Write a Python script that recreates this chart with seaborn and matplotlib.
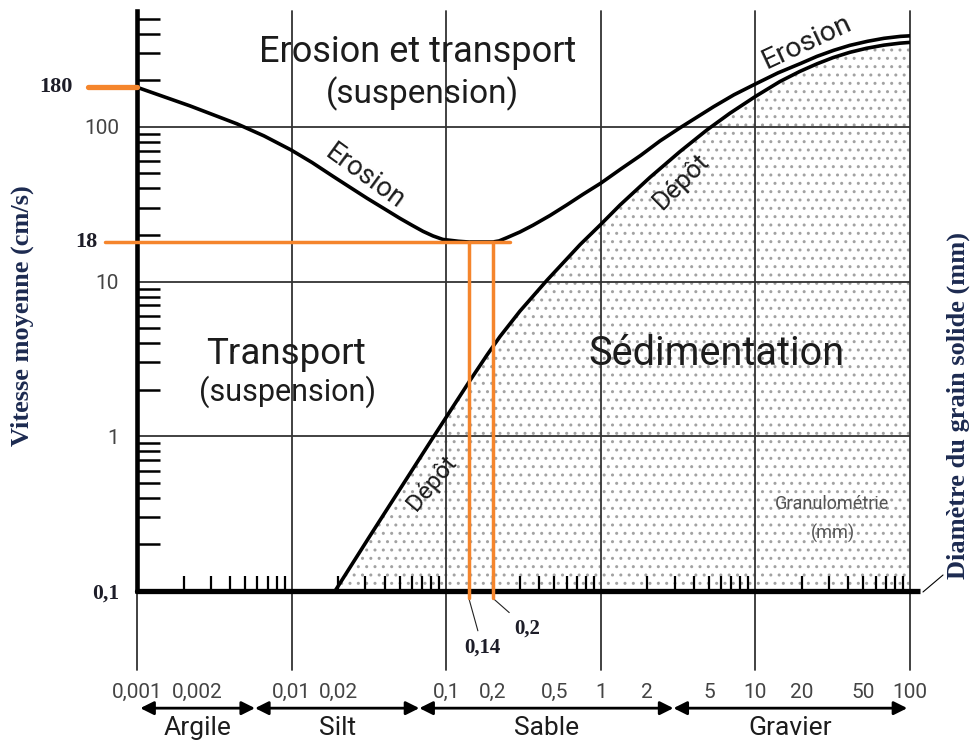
import numpy as np
import pandas as pd
import matplotlib
matplotlib.use("Agg")
import matplotlib.pyplot as plt
from matplotlib.lines import Line2D
from matplotlib.ticker import LogLocator, NullFormatter
from matplotlib.transforms import ScaledTranslation
import seaborn as sns

# Hjulström diagram: grain diameter (mm) against mean flow velocity (cm/s)
erosion_d = [0.001, 0.0022, 0.00444, 0.00663, 0.0099, 0.01355, 0.0185, 0.0239, 0.0308,
             0.0396, 0.0502, 0.0601, 0.0708, 0.0822, 0.0953, 0.12, 0.14, 0.2, 0.22,
             0.247, 0.30, 0.364, 0.469, 0.604, 0.767, 1.0, 1.35, 1.81, 2.42, 3.25,
             5.38, 7.27, 10, 14.0, 19.7, 25.0, 32.1, 40.9, 53.3, 67.9, 87, 100]
erosion_v = [180, 136.5, 104.4, 87.3, 70.9, 58.8, 47.9, 40.6, 34.5,
             29.6, 25.6, 23.1, 21.1, 19.7, 18.7, 18.2, 18, 18, 18.3,
             19.2, 20.9, 23.1, 26.7, 31.3, 36.6, 43.2, 53.4, 65.3, 81.1, 98.4,
             135, 161, 189, 223, 257, 285, 312, 336, 357, 373, 384, 387]

deposit_d = [0.0191, 0.0321, 0.0502, 0.0785, 0.109, 0.1425, 0.1836, 0.2228, 0.300,
             0.449, 0.734, 1.0, 1.331, 2.08, 3.25, 4.86, 6.85, 10, 14.4, 19.4, 25.0,
             31.8, 40.9, 52.7, 67.9, 86.1, 100]
deposit_v = [0.1, 0.2267, 0.455, 0.913, 1.517, 2.292, 3.349, 4.41, 6.44,
             10.2, 17.3, 23.4, 31.2, 47.1, 69.1, 95.4, 122.4, 157, 196, 228, 255,
             280, 303, 322, 337, 347, 351]

# read-off values highlighted in orange
v_marks = [180, 18]
d_marks = [0.14, 0.2]
d_mark_labels = ["0,14", "0,2"]

x_ticks = [0.001, 0.002, 0.01, 0.02, 0.1, 0.2, 0.5, 1, 2, 5, 10, 20, 50, 100]
x_tick_labels = ["0,001", "0,002", "0,01", "0,02", "0,1", "0,2", "0,5", "1", "2", "5",
                 "10", "20", "50", "100"]
y_ticks = [0.1, 1, 10, 100]
y_tick_labels = ["0,1", "1", "10", "100"]
decades = [0.001, 0.01, 0.1, 1, 10, 100]

classes = ["Argile", "Silt", "Sable", "Gravier"]
class_bounds = [0.00105, 0.0058, 0.067, 2.95, 96]

sns.set_theme(style="white")
plt.rcParams["font.family"] = ["Roboto", "DejaVu Sans"]
plt.rcParams["hatch.linewidth"] = 1.0

ORANGE = "#f5852c"
DARK = "#1d1d28"
NAVY = "#1c2a50"
INK = "#1c1c1c"
SERIF = ["Liberation Serif", "DejaVu Serif"]

fig = plt.figure(figsize=(9.73, 7.45), dpi=100)
ax = fig.add_axes([137 / 973, 1 - 591 / 745, 773 / 973, 580 / 745])
ax.set_xscale("log")
ax.set_yscale("log")
ax.set_xlim(0.001, 100)
ax.set_ylim(0.1, 560)
ax.set_facecolor("none")

# dotted sedimentation area under the deposit curve
ax.fill_between(deposit_d, deposit_v, 0.1, facecolor="none", edgecolor="#a2a2a2",
                hatch="..", linewidth=0, zorder=0.5)

# grid: horizontal decades and vertical decades reaching down to the size scale
for v in [1, 10, 100]:
    ax.axhline(v, color="#333333", lw=1.3, zorder=1)
for d in decades:
    ax.plot([d, d], [-0.136, 1], transform=ax.get_xaxis_transform(), clip_on=False,
            color="#333333", lw=1.3, zorder=1)

curves = pd.DataFrame({
    "d": erosion_d + deposit_d,
    "v": erosion_v + deposit_v,
    "courbe": ["Erosion"] * len(erosion_d) + ["Dépôt"] * len(deposit_d),
})
sns.lineplot(data=curves, x="d", y="v", hue="courbe",
             palette={"Erosion": "black", "Dépôt": "black"},
             sort=False, legend=False, lw=2.6, ax=ax, zorder=3)
for line in ax.get_lines()[-2:]:
    line.set_solid_joinstyle("round")
ax.set_xlabel("")
ax.set_ylabel("")

# spines
for s in ["top", "right"]:
    ax.spines[s].set_visible(False)
ax.spines["left"].set_linewidth(3.3)
ax.spines["left"].set_color("black")
ax.spines["bottom"].set_linewidth(3.8)
ax.spines["bottom"].set_color("black")
ax.spines["bottom"].set_capstyle("round")
ax.plot([100, 116], [0.1, 0.1], clip_on=False, color="black", lw=3.8,
        solid_capstyle="butt", zorder=4)

# y ticks
ax.set_yticks(y_ticks, labels=y_tick_labels)
ax.yaxis.set_minor_locator(LogLocator(base=10, subs=np.arange(2, 10), numticks=20))
ax.yaxis.set_minor_formatter(NullFormatter())
ax.tick_params(axis="y", which="minor", direction="in", length=16.5, width=1.8,
               color="black", left=True)
ax.tick_params(axis="y", which="major", length=0, pad=13, labelsize=15,
               labelcolor="#444444", left=True)
lab01 = ax.get_yticklabels()[0]
lab01.set_fontfamily(SERIF)
lab01.set_fontweight("bold")
lab01.set_color(DARK)
lab01.set_fontsize(15.5)

# x ticks
ax.set_xticks(x_ticks, labels=x_tick_labels)
ax.xaxis.set_minor_locator(LogLocator(base=10, subs=np.arange(2, 10), numticks=20))
ax.xaxis.set_minor_formatter(NullFormatter())
ax.xaxis.remove_overlapping_locs = False
ax.tick_params(axis="x", which="minor", direction="in", length=11, width=1.6,
               color="black", bottom=True)
ax.tick_params(axis="x", which="major", length=0, pad=66, labelsize=15,
               labelcolor="#444444", bottom=True)
# keep "0,002" clear of "0,001"
lab002 = ax.get_xticklabels()[1]
lab002.set_transform(lab002.get_transform() + ScaledTranslation(14 / 100, 0, fig.dpi_scale_trans))

# orange read-off lines
ax.plot([-0.0634, 0], [v_marks[0]] * 2, transform=ax.get_yaxis_transform(),
        clip_on=False, color=ORANGE, lw=3.8, solid_capstyle="round", zorder=5)
ax.plot([-0.0414, 0.4825], [v_marks[1]] * 2, transform=ax.get_yaxis_transform(),
        clip_on=False, color=ORANGE, lw=2.5, zorder=5)
for d in d_marks:
    ax.plot([d, d], [v_marks[1], 0.09], clip_on=False, color=ORANGE, lw=2.5, zorder=5)

ax.text(-0.083, v_marks[0], "180", transform=ax.get_yaxis_transform(), ha="right",
        va="center", fontsize=16, fontweight="bold", family=SERIF, color=DARK)
ax.text(-0.051, v_marks[1], "18", transform=ax.get_yaxis_transform(), ha="right",
        va="center", fontsize=16, fontweight="bold", family=SERIF, color=DARK)

offsets = [(10, -36), (25, -22)]
for d, lab, off in zip(d_marks, d_mark_labels, offsets):
    ax.annotate(lab, xy=(d, 0.09), xytext=off, textcoords="offset points",
                ha="center", va="center", fontsize=15, fontweight="bold",
                family=SERIF, color=DARK, annotation_clip=False,
                arrowprops=dict(arrowstyle="-", lw=0.8, color="#222222",
                                shrinkA=3, shrinkB=0))

# grain size classes
for i, name in enumerate(classes):
    a, b = class_bounds[i], class_bounds[i + 1]
    ax.annotate("", xy=(a, -0.202), xytext=(b, -0.202),
                xycoords=ax.get_xaxis_transform(), textcoords=ax.get_xaxis_transform(),
                annotation_clip=False,
                arrowprops=dict(arrowstyle="<|-|>", color="black", lw=2,
                                mutation_scale=20, shrinkA=0, shrinkB=0))
    ax.text(np.sqrt(a * b), -0.237, name, transform=ax.get_xaxis_transform(),
            ha="center", va="center", fontsize=19, color=INK)

# region labels
txt = dict(ha="center", va="center", color=INK, transform=ax.transAxes)
ax.text(0.3635, 0.930, "Erosion et transport", fontsize=26, **txt)
ax.text(0.3687, 0.857, "(suspension)", fontsize=24, **txt)
ax.text(0.1928, 0.409, "Transport", fontsize=26.5, **txt)
ax.text(0.1953, 0.343, "(suspension)", fontsize=22, **txt)
ax.text(0.749, 0.409, "Sédimentation", fontsize=28.5, **txt)
ax.text(0.899, 0.150, "Granulométrie", fontsize=13, ha="center", va="center",
        color="#555555", transform=ax.transAxes)
ax.text(0.9004, 0.100, "(mm)", fontsize=13, ha="center", va="center",
        color="#555555", transform=ax.transAxes)

rot = dict(ha="center", va="center", rotation_mode="anchor", color=INK,
           transform=ax.transAxes)
ax.text(0.295, 0.714, "Erosion", fontsize=19.5, rotation=-36, **rot)
ax.text(0.867, 0.947, "Erosion", fontsize=20.5, rotation=25, **rot)
ax.text(0.704, 0.707, "Dépôt", fontsize=18.5, rotation=45, **rot)
ax.text(0.381, 0.186, "Dépôt", fontsize=17.5, rotation=50, **rot)

# axis titles
fig.text(0.0226, 0.576, "Vitesse moyenne (cm/s)", rotation=90, ha="center",
         va="center", fontsize=19, fontweight="bold", family=SERIF, color=NAVY)
fig.text(0.9846, 0.456, "Diamètre du grain solide (mm)", rotation=90, ha="center",
         va="center", fontsize=19, fontweight="bold", family=SERIF, color=NAVY)
fig.add_artist(Line2D([0.9486, 0.9692], [0.2054, 0.2282], transform=fig.transFigure,
                      color="black", lw=0.8))

fig.savefig("out.png", dpi=100, facecolor="white")
